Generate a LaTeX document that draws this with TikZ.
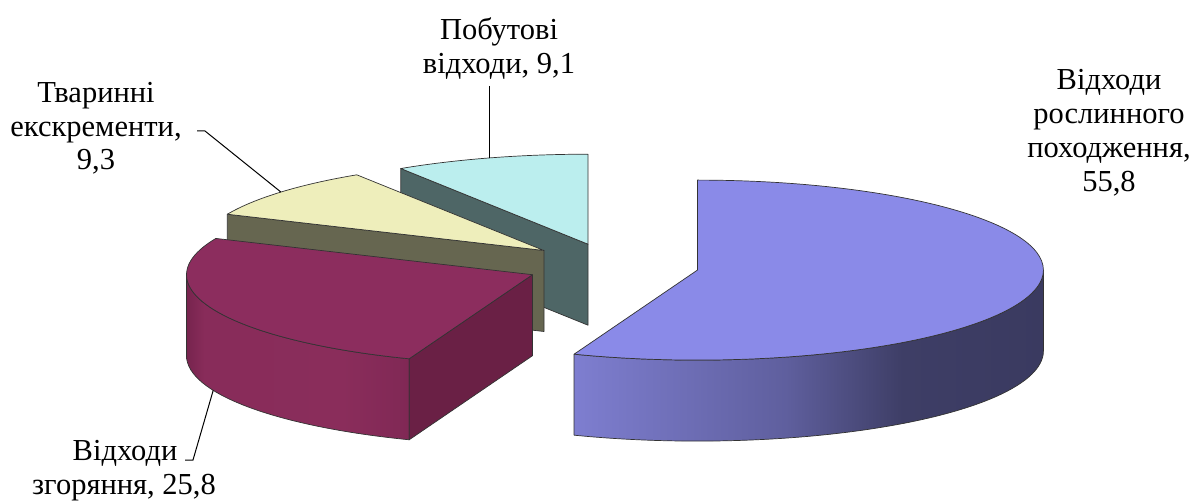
\documentclass[tikz,border=0pt]{standalone}
\usepackage{fontspec}
\setmainfont{Liberation Serif}
\newfontfamily\labelfont{Liberation Serif}
\usetikzlibrary{calc}

\definecolor{bluetop}{RGB}{138,138,232}
\definecolor{maroontop}{RGB}{140,45,94}
\definecolor{maroonface}{RGB}{106,32,69}
\definecolor{yellowtop}{RGB}{238,238,187}
\definecolor{yellowface}{RGB}{102,102,80}
\definecolor{cyantop}{RGB}{187,238,238}
\definecolor{cyanface}{RGB}{78,102,102}

\definecolor{bsA}{RGB}{126,126,208}
\definecolor{bsB}{RGB}{95,95,158}
\definecolor{bsC}{RGB}{62,62,102}
\definecolor{bsD}{RGB}{58,58,96}
\definecolor{msA}{RGB}{118,36,78}
\definecolor{msB}{RGB}{136,44,90}
\definecolor{msC}{RGB}{138,45,91}
\definecolor{msD}{RGB}{128,40,85}

\pgfdeclarehorizontalshading{bluesideshade}{100bp}{%
  color(0bp)=(bsA); color(25bp)=(bsA); color(47.5bp)=(bsB);
  color(60bp)=(bsC); color(75bp)=(bsD); color(100bp)=(bsD)}
\pgfdeclarehorizontalshading{maroonsideshade}{100bp}{%
  color(0bp)=(msA); color(25bp)=(msA); color(29bp)=(msB);
  color(60bp)=(msC); color(75bp)=(msD); color(100bp)=(msD)}

\begin{document}
\begin{tikzpicture}[x=1pt,y=1pt,
  outl/.style={draw=black!80, line width=0.7pt, line join=round},
  rr/.style={x radius=346, y radius=90},
  lbl/.style={font=\labelfont\fontsize{30.5}{34}\selectfont, inner sep=0pt, anchor=base},
  leader/.style={draw=black, line width=1pt}]
\useasboundingbox (0,0) rectangle (1199,501);

% apexes of the exploded slices
\coordinate (PB) at (697.4,230.9);
\coordinate (PM) at (532.5,226.3);
\coordinate (PY) at (544,250.5);
\coordinate (PC) at (588,256.8);

% --- cyan slice (9,1) ---
\coordinate (C0) at ($(PC)+(90:346 and 90)$);
\coordinate (C1) at ($(PC)+(122.76:346 and 90)$);
\path[fill=cyanface, outl] (PC) -- (C1) -- ($(C1)+(0,-81)$) -- ($(PC)+(0,-81)$) -- cycle;
\path[fill=cyantop, outl] (PC) -- (C0) arc[start angle=90, end angle=122.76, rr] -- cycle;

% --- yellow slice (9,3) ---
\coordinate (Y1) at ($(PY)+(122.76:346 and 90)$);
\coordinate (Y2) at ($(PY)+(156.24:346 and 90)$);
\path[fill=yellowface, outl] (PY) -- (Y2) -- ($(Y2)+(0,-81)$) -- ($(PY)+(0,-81)$) -- cycle;
\path[fill=yellowtop, outl] (PY) -- (Y1) arc[start angle=122.76, end angle=156.24, rr] -- cycle;

% --- maroon slice (25,8) ---
\coordinate (M1) at ($(PM)+(156.24:346 and 90)$);
\coordinate (M2) at ($(PM)+(249.12:346 and 90)$);
\coordinate (ML) at ($(PM)+(180:346 and 90)$);
\shadedraw[shading=maroonsideshade, outl] (ML) arc[start angle=180, end angle=249.12, rr]
  -- ++(0,-81) arc[start angle=249.12, end angle=180, rr] -- cycle;
\path[fill=maroonface, outl] (PM) -- (M2) -- ($(M2)+(0,-81)$) -- ($(PM)+(0,-81)$) -- cycle;
\path[fill=maroontop, outl] (PM) -- (M1) arc[start angle=156.24, end angle=249.12, rr] -- cycle;

% --- blue slice (55,8) ---
\coordinate (B90) at ($(PB)+(90:346 and 90)$);
\coordinate (B2) at ($(PB)+(-110.88:346 and 90)$);
\shadedraw[shading=bluesideshade, outl] (B2) arc[start angle=-110.88, end angle=0, rr]
  -- ++(0,-81) arc[start angle=0, end angle=-110.88, rr] -- cycle;
\path[fill=bluetop, outl] (PB) -- (B90) arc[start angle=90, end angle=-110.88, rr] -- cycle;

% --- labels ---
\node[lbl] (p1) at (499,461) {Побутові};
\node[lbl] (p2) at (499,427) {відходи, 9,1};
\node[lbl] (t1) at (96,398) {Тваринні};
\node[lbl] (t2) at (96,364) {екскременти,};
\node[lbl] (t3) at (96,331) {9,3};
\node[lbl] (r1) at (1109,411) {Відходи};
\node[lbl] (r2) at (1109,377) {рослинного};
\node[lbl] (r3) at (1109,343) {походження,};
\node[lbl] (r4) at (1109,309) {55,8};
\node[lbl] (z1) at (125,41) {Відходи};
\node[lbl] (z2) at (124,7) {згоряння, 25,8};

% --- leader lines ---
\coordinate (cP) at ($(PC)+(106.6:346 and 90)$);
\coordinate (pL) at (cP |- 0,415);
\draw[leader] (pL) -- (cP);

\coordinate (yP) at ($(PY)+(139.5:346 and 90)$);
\coordinate (tL) at (197,370);
\draw[leader] (tL) -- ++(8,0) -- (yP);

\coordinate (mP) at ($(PM)+(0,-81)+(202.65:346 and 90)$);
\coordinate (zL) at (185,41);
\draw[leader] (zL) -- ++(8,0) -- (mP);
\end{tikzpicture}
\end{document}
